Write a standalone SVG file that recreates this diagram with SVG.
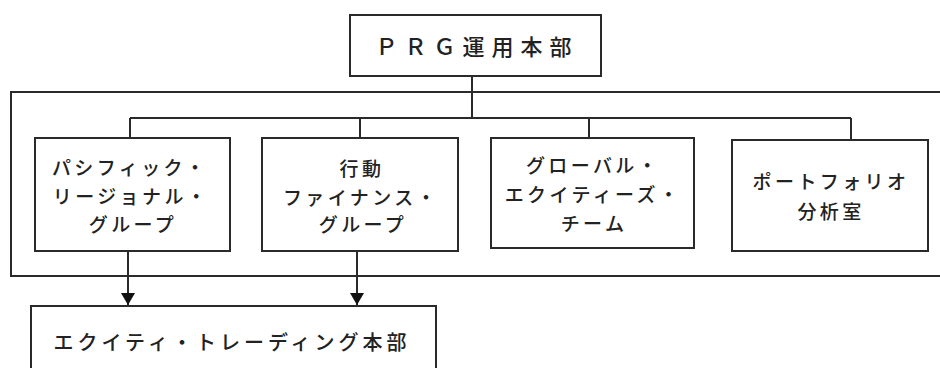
<svg xmlns="http://www.w3.org/2000/svg" width="940" height="368" viewBox="0 0 940 368">
<defs>
<style>
.box{fill:#fff;stroke:#2a2a2a;stroke-width:2}
.ln{fill:none;stroke:#2a2a2a;stroke-width:2}
.t{font-family:"Noto Sans CJK JP","Noto Sans",sans-serif;font-weight:500;fill:#222;text-anchor:middle;dominant-baseline:central}
.tb{font-size:19px;letter-spacing:3.4px}
</style>
<marker id="ah" viewBox="0 0 12 14" refX="12" refY="7" markerWidth="12" markerHeight="14" markerUnits="userSpaceOnUse" orient="auto">
<path d="M0,0 L12,7 L0,14 Z" fill="#111"/>
</marker>
</defs>
<rect width="940" height="368" fill="#fff"/>
<rect id="frame" class="box" x="11" y="92" width="940" height="184" fill="none"/>
<g id="connectors">
<path class="ln" d="M472,76 V118 M130,118 H851 M130,118 V138 M360,118 V138 M589,118 V138 M851,118 V140"/>
<path class="ln" d="M128,251 V305" marker-end="url(#ah)"/>
<path class="ln" d="M357,251 V305" marker-end="url(#ah)"/>
</g>
<g id="prg">
<rect class="box" x="350" y="15" width="251" height="61"/>
<text class="t" x="477" y="45" style="font-size:22px;letter-spacing:7px">ＰＲＧ運用本部</text>
</g>
<g id="pacific">
<rect class="box" x="35" y="138" width="195" height="113"/>
<text class="t tb" x="130" y="166">パシフィック・</text>
<text class="t tb" x="131" y="195">リージョナル・</text>
<text class="t tb" x="133" y="223">グループ</text>
</g>
<g id="behavior">
<rect class="box" x="262" y="138" width="196" height="113"/>
<text class="t tb" x="362" y="167">行動</text>
<text class="t tb" x="361" y="196">ファイナンス・</text>
<text class="t tb" x="363" y="223">グループ</text>
</g>
<g id="global">
<rect class="box" x="491" y="138" width="203" height="110"/>
<text class="t tb" x="593" y="164">グローバル・</text>
<text class="t tb" x="593" y="193">エクイティーズ・</text>
<text class="t tb" x="594" y="222">チーム</text>
</g>
<g id="portfolio">
<rect class="box" x="732" y="140" width="196" height="111"/>
<text class="t tb" x="831" y="180">ポートフォリオ</text>
<text class="t tb" x="831" y="210">分析室</text>
</g>
<g id="equity">
<rect class="box" x="31" y="306" width="405" height="80"/>
<text class="t" x="232" y="341" style="font-size:20px;letter-spacing:4px">エクイティ・トレーディング本部</text>
</g>
</svg>
